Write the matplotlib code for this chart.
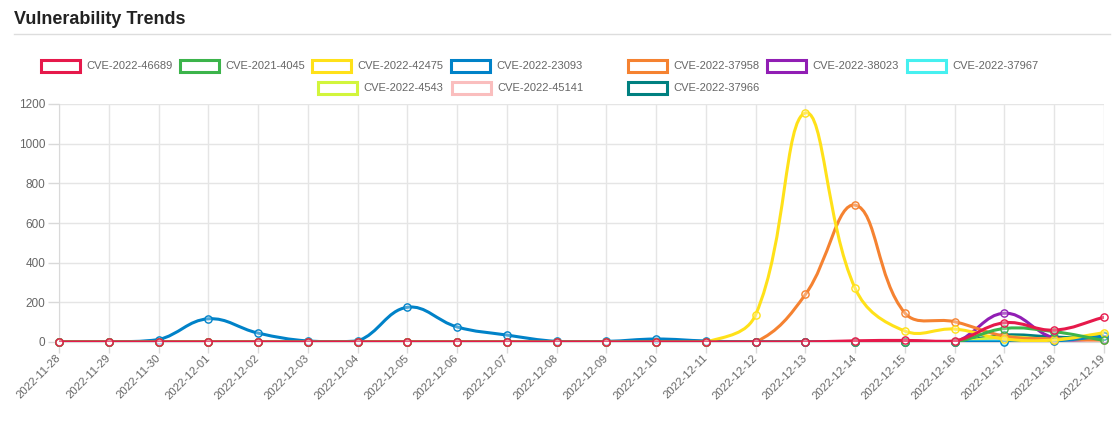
import numpy as np
import matplotlib
matplotlib.use("Agg")
import matplotlib.pyplot as plt
from matplotlib.path import Path
from matplotlib.patches import PathPatch, Rectangle

plt.rcParams['font.family'] = ['Liberation Sans', 'DejaVu Sans']

dates = ["2022-11-28", "2022-11-29", "2022-11-30", "2022-12-01", "2022-12-02", "2022-12-03",
         "2022-12-04", "2022-12-05", "2022-12-06", "2022-12-07", "2022-12-08", "2022-12-09",
         "2022-12-10", "2022-12-11", "2022-12-12", "2022-12-13", "2022-12-14", "2022-12-15",
         "2022-12-16", "2022-12-17", "2022-12-18", "2022-12-19"]

cve_names = ["CVE-2022-46689", "CVE-2021-4045", "CVE-2022-42475", "CVE-2022-23093",
             "CVE-2022-37958", "CVE-2022-38023", "CVE-2022-37967", "CVE-2022-4543",
             "CVE-2022-45141", "CVE-2022-37966"]

cve_46689 = [0, 0, 0, 0, 0, 0, 0, 0, 0, 0, 0, 0, 0, 0, 0, 0, 6, 8, 5, 97, 60, 125]
cve_4045 = [0, 0, 0, 0, 0, 0, 0, 0, 0, 0, 0, 0, 0, 0, 0, 0, 0, 0, 0, 68, 52, 8]
cve_42475 = [0, 0, 0, 0, 0, 0, 0, 0, 0, 0, 0, 0, 0, 0, 138, 1155, 270, 55, 65, 15, 10, 47]
cve_23093 = [0, 0, 12, 117, 45, 5, 5, 175, 76, 35, 3, 3, 15, 5, 0, 0, 0, 0, 0, 0, 5, 30]
cve_37958 = [0, 0, 0, 0, 0, 0, 0, 0, 0, 0, 0, 0, 0, 0, 0, 240, 690, 146, 102, 30, 15, 10]
cve_38023 = [0, 0, 0, 0, 0, 0, 0, 0, 0, 0, 0, 0, 0, 0, 0, 0, 0, 0, 0, 145, 20, 15]
cve_37967 = [0, 0, 0, 0, 0, 0, 0, 0, 0, 0, 0, 0, 0, 0, 0, 0, 0, 0, 0, 5, 10, 15]
cve_4543 = [0, 0, 0, 0, 0, 0, 0, 0, 0, 0, 0, 0, 0, 0, 0, 0, 0, 0, 0, 25, 15, 35]
cve_45141 = [0, 0, 0, 0, 0, 0, 0, 0, 0, 0, 0, 0, 0, 0, 0, 0, 0, 0, 0, 10, 5, 10]
cve_37966 = [0, 0, 0, 0, 0, 0, 0, 0, 0, 0, 0, 0, 0, 0, 0, 0, 0, 0, 0, 35, 25, 15]

series = [cve_46689, cve_4045, cve_42475, cve_23093, cve_37958,
          cve_38023, cve_37967, cve_4543, cve_45141, cve_37966]
colors = ["#e6194b", "#3cb44b", "#ffe119", "#0082c8", "#f58231",
          "#911eb4", "#46f0f0", "#d2f53c", "#fabebe", "#008080"]

W, H = 1118, 428
fig = plt.figure(figsize=(W / 100, H / 100), dpi=100)
L, R, B, T = 59, 1104, 342, 104
ax = fig.add_axes([L / W, 1 - B / H, (R - L) / W, (B - T) / H])
YMAX = 1200
ax.set_xlim(0, len(dates) - 1)
ax.set_ylim(0, YMAX)

# pixel scale, so the spline looks like the chart.js one
sx = (R - L) / (len(dates) - 1)
sy = (B - T) / YMAX
tension = 0.4


def spline_path(vals):
    pts = np.array([[i * sx, v * sy] for i, v in enumerate(vals)])
    n = len(pts)
    cin, cout = [], []
    for i in range(n):
        prev = pts[max(i - 1, 0)]
        cur = pts[i]
        nxt = pts[min(i + 1, n - 1)]
        d01 = np.hypot(*(cur - prev))
        d12 = np.hypot(*(nxt - cur))
        tot = d01 + d12
        s01 = d01 / tot if tot else 0
        s12 = d12 / tot if tot else 0
        fa, fb = tension * s01, tension * s12
        cin.append(cur - fa * (nxt - prev))
        cout.append(cur + fb * (nxt - prev))

    def to_data(p):
        x = min(max(p[0] / sx, 0), n - 1)
        y = min(max(p[1] / sy, 0), YMAX)
        return (x, y)

    verts = [to_data(pts[0])]
    codes = [Path.MOVETO]
    for i in range(n - 1):
        verts += [to_data(cout[i]), to_data(cin[i + 1]), to_data(pts[i + 1])]
        codes += [Path.CURVE4] * 3
    return Path(verts, codes)


x = np.arange(len(dates))
for k, (vals, c) in enumerate(zip(series, colors)):
    z = 20 - k
    ax.add_patch(PathPatch(spline_path(vals), fill=False, edgecolor=c, lw=2.2,
                           zorder=z, capstyle='round', joinstyle='round'))
    ax.plot(x, vals, ls='none', marker='o', ms=5.2, mfc=(1, 1, 1, 0.3), mec=c,
            mew=1, zorder=z, clip_on=False)

ax.set_yticks(np.arange(0, YMAX + 1, 200))
ax.set_xticks(x)
ax.set_xticklabels(dates, rotation=45, ha='right', va='center', rotation_mode='anchor')
ax.tick_params(axis='both', colors='#d9d9d9', labelcolor='#666666', labelsize=8.5,
               length=8, width=1)
ax.tick_params(axis='x', labelsize=8.1, pad=2.5)
ax.tick_params(axis='y', pad=2)
ax.grid(True, color='#e5e5e5', lw=1)
ax.set_axisbelow(True)
for s in ax.spines.values():
    s.set_visible(False)
ax.spines['left'].set_visible(True)
ax.spines['left'].set_color('#d9d9d9')
ax.spines['bottom'].set_visible(True)
ax.spines['bottom'].set_color('#d9d9d9')

# header
fig.text(14 / W, 1 - 19 / H, "Vulnerability Trends", fontsize=13, fontweight='bold',
         color='#222222', va='center', ha='left')
fig.add_artist(plt.Line2D([14 / W, 1110 / W], [1 - 34 / H, 1 - 34 / H],
                          color='#dddddd', lw=1))

# legend, two centred rows like chart.js
box_x = [41, 180, 312, 451, 628, 767, 907, 318, 452, 628]
box_y = [66, 66, 66, 66, 66, 66, 66, 88, 88, 88]
for name, c, bx, by in zip(cve_names, colors, box_x, box_y):
    fig.add_artist(Rectangle((bx / W, 1 - (by + 6) / H), 39 / W, 12 / H,
                             facecolor='white', edgecolor=c, lw=2.2,
                             transform=fig.transFigure))
    fig.text((bx + 45) / W, 1 - by / H, name, fontsize=8, color='#666666',
             va='center', ha='left')

fig.savefig("out.png", dpi=100)
